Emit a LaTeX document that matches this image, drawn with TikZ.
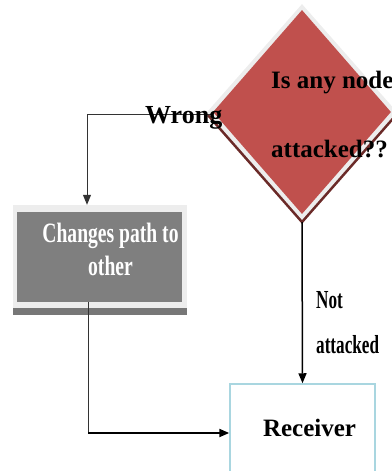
\documentclass[tikz,border=0pt]{standalone}
\usepackage{fontspec}
\setmainfont{Liberation Serif}
\usetikzlibrary{shapes.geometric,arrows.meta}
\definecolor{diared}{HTML}{C0504D}
\definecolor{shadowred}{HTML}{6B2A28}
\definecolor{framegrey}{HTML}{EDEDED}
\definecolor{boxgrey}{HTML}{7F7F7F}
\definecolor{boxshadow}{HTML}{777777}
\definecolor{recvblue}{HTML}{A9D6E0}
\definecolor{linegrey}{HTML}{333333}
\tikzset{
  lbl/.style={inner sep=0pt, font=\fontsize{25}{30}\selectfont\bfseries},
  thinline/.style={draw=linegrey, line width=1pt},
  tip/.style={-{Triangle[length=10pt,width=8pt]}},
}
\begin{document}
\begin{tikzpicture}[x=1pt,y=-1pt]
\useasboundingbox (0,0) rectangle (391,471);
% decision diamond with frame and shadow
\node[diamond, minimum width=190, minimum height=216, inner sep=0pt, fill=shadowred] at (302,116) {};
\node[diamond, minimum width=190, minimum height=216, inner sep=0pt, fill=framegrey] at (302,112) {};
\node (q) [diamond, minimum width=178, minimum height=204, inner sep=0pt, fill=diared] at (302,112) {};
\node (q1) [lbl, anchor=base west] at (271,88) {Is any node};
\node (q2) [lbl, anchor=base west] at (271,157) {attacked??};
% grey process box
\fill[boxshadow] (13,308) rectangle (187,315);
\node (chg) [fill=framegrey, inner sep=0pt, minimum width=174, minimum height=103] at (100,256.5) {};
\node (chgin) [fill=boxgrey, inner sep=0pt, minimum width=165, minimum height=90] at (99.5,257) {};
\node (c1) [lbl, text=white, anchor=base, font=\fontsize{28}{30}\selectfont\bfseries] at (110.5,242) {\scalebox{0.7}[1]{Changes path to}};
\node (c2) [lbl, text=white, anchor=base, font=\fontsize{28}{30}\selectfont\bfseries] at (110.5,275) {\scalebox{0.7}[1]{other}};
% receiver
\node (recv) [draw=recvblue, line width=1.5pt, inner sep=0pt, minimum width=145, minimum height=88] at (302.5,428) {};
\node (rt) [lbl] at (309.5,428) {Receiver};
% connectors
\coordinate (w) at (87,114);
\draw[thinline, tip] (q.west |- w) -- (w) -- (w |- chg.north);
\node (wl) [lbl, anchor=base west, font=\fontsize{26}{30}\selectfont\bfseries] at (145,123) {Wrong};
\coordinate (b) at (88,433);
\draw[thinline] (chgin.south -| b) -- (b);
\draw[black, line width=2pt, tip] (b) -- (b -| recv.west);
\draw[black, line width=1.5pt, tip] (302,222) -- (recv.north);
\node (n1) [lbl, anchor=base west, font=\fontsize{26}{30}\selectfont\bfseries] at (316,308) {\scalebox{0.66}[1]{Not}};
\node (n2) [lbl, anchor=base west, font=\fontsize{26}{30}\selectfont\bfseries] at (316,353) {\scalebox{0.66}[1]{attacked}};
\end{tikzpicture}
\end{document}
